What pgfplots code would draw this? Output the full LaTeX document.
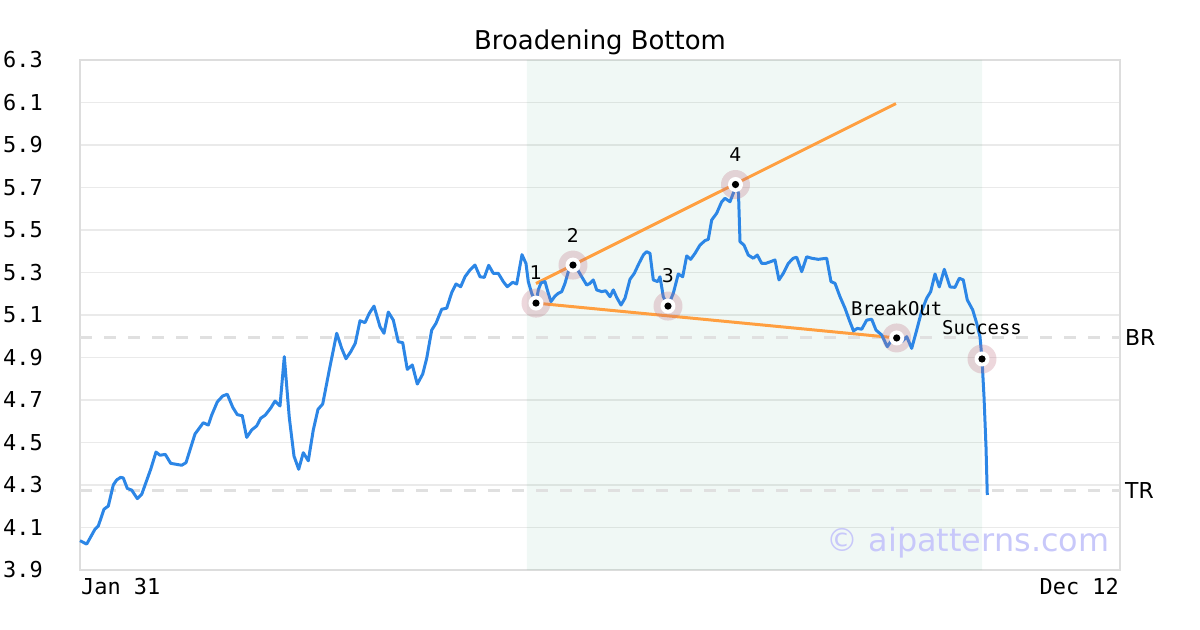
\documentclass[border=0pt]{standalone}
\usepackage{fontspec}
\setmainfont{DejaVu Sans}
\newfontfamily\monofont{DejaVu Sans Mono}
\usepackage{pgfplots}
\usepackage{pgfplotstable}
\pgfplotsset{compat=1.18}

\definecolor{lineblue}{RGB}{44,134,230}
\definecolor{trendorange}{RGB}{255,159,64}
\definecolor{shadegreen}{RGB}{0,140,80}
\definecolor{gridgray}{RGB}{234,234,234}
\definecolor{framegray}{RGB}{221,221,221}
\definecolor{dashgray}{RGB}{224,224,224}
\definecolor{halo}{RGB}{190,110,130}
\definecolor{wmark}{RGB}{200,200,250}

% price series (x in chart units, Jan 31 = 0, Dec 12 = 1040)
\pgfplotstableread{
x y
0 4.038
6.7 4.022
15 4.092
18.3 4.107
24 4.186
28.3 4.201
33.3 4.300
36.7 4.324
40.7 4.336
43.3 4.333
47.3 4.284
51.7 4.276
57.3 4.236
61.7 4.256
70.7 4.374
76 4.455
80 4.440
85.3 4.444
90.7 4.402
96.7 4.397
101.7 4.393
106 4.405
110 4.465
115 4.540
123.3 4.593
128.3 4.582
131.7 4.629
137.3 4.691
142.7 4.719
147.3 4.727
152.7 4.666
157.3 4.631
162.3 4.626
166.7 4.524
171.7 4.559
176.7 4.578
180.7 4.614
185.3 4.629
190.7 4.662
195 4.695
200 4.672
204.3 4.904
209.3 4.617
214 4.436
218.7 4.374
223.3 4.452
228.3 4.414
233.3 4.559
238 4.656
242.7 4.681
249.3 4.841
256.7 5.014
261.7 4.943
266 4.894
270.7 4.927
275.3 4.967
280 5.073
285 5.064
289.3 5.108
294 5.142
300 5.045
304 5.014
308.3 5.114
313.3 5.076
318.3 4.974
322.7 4.970
327.3 4.844
332.3 4.865
337.3 4.775
342.7 4.822
346.7 4.896
351.7 5.029
356 5.061
361.7 5.127
366.7 5.132
371.7 5.205
376 5.246
380.7 5.233
385 5.280
390 5.312
395 5.335
400 5.280
404.3 5.277
408.7 5.334
413.3 5.296
418.3 5.296
423.3 5.257
427.3 5.233
432.7 5.254
436.7 5.246
442 5.384
446 5.342
448.3 5.257
451.7 5.202
456 5.156
458.3 5.218
461 5.251
465 5.257
468.3 5.202
471 5.163
475 5.189
478.3 5.202
481.7 5.210
485 5.249
488.3 5.304
493 5.335
496.7 5.320
501.7 5.280
506.7 5.241
510 5.249
513.3 5.265
516.7 5.218
521.7 5.210
525.7 5.214
530 5.186
533.3 5.218
536.7 5.183
541 5.147
545 5.179
550 5.268
554.3 5.296
559 5.343
563.3 5.382
566.7 5.398
570 5.390
573.3 5.265
577.7 5.257
580 5.280
583.3 5.186
588 5.142
593.3 5.202
598.3 5.293
602.7 5.280
606.7 5.378
610.7 5.362
615 5.390
620 5.429
625 5.450
628.3 5.456
631.7 5.547
636.7 5.579
641.7 5.633
645 5.649
650 5.633
653.3 5.673
655.5 5.714
658.5 5.673
660 5.445
664 5.429
668.3 5.382
673.3 5.367
677.3 5.382
681.7 5.343
685.7 5.343
690.7 5.351
695 5.359
699 5.265
703.3 5.296
708.3 5.343
713.3 5.367
716.7 5.372
721.7 5.304
726.7 5.374
731.7 5.367
738.3 5.362
746.7 5.367
751 5.257
755 5.249
760 5.186
765 5.132
769.3 5.076
773.5 5.025
777.3 5.037
781.7 5.033
786.7 5.076
791.7 5.080
796 5.029
801.7 5.006
807.3 4.951
811.7 4.982
816.7 4.992
821.7 4.974
826.7 4.998
831.7 4.943
836.7 5.029
841.7 5.119
846.7 5.179
850.7 5.210
855 5.293
859.3 5.232
864.3 5.315
870 5.232
875 5.230
879.3 5.273
883.3 5.265
887.3 5.171
892.7 5.124
896.7 5.061
900 4.998
902 4.893
904 4.716
906 4.480
907.3 4.253
}\price

% pattern points
\pgfplotstableread{
x y
456 5.156
493 5.335
588 5.142
655.5 5.714
816.7 4.992
902 4.893
}\pivots

\begin{document}
\begin{tikzpicture}
\useasboundingbox (-80bp,-60bp) rectangle (1120bp,570bp);
\begin{axis}[
  at={(0,0)}, anchor=south west,
  scale only axis, width=1040bp, height=510bp,
  xmin=0, xmax=1040, ymin=3.9, ymax=6.3,
  clip=false,
  axis line style={framegray, line width=2.5bp},
  major tick length=0pt,
  ytick={3.9,4.1,4.3,4.5,4.7,4.9,5.1,5.3,5.5,5.7,5.9,6.1,6.3},
  yticklabels={3.9,4.1,4.3,4.5,4.7,4.9,5.1,5.3,5.5,5.7,5.9,6.1,6.3},
  xtick={0}, xticklabels={Jan 31},
  extra x ticks={1040}, extra x tick labels={Dec 12},
  extra x tick style={xticklabel style={anchor=north east, xshift=-2bp}},
  xticklabel style={anchor=north west, inner sep=0pt, yshift=-8bp, xshift=1bp,
    font=\monofont\fontsize{22}{22}\selectfont},
  yticklabel style={anchor=east, inner sep=0pt, xshift=-37bp,
    font=\monofont\fontsize{22}{22}\selectfont},
  ymajorgrids, grid style={gridgray, line width=1.2bp},
  title={Broadening Bottom},
  every axis title shift=0pt,
  title style={inner sep=0pt, yshift=5bp, font=\fontsize{26}{26}\selectfont},
]
% pattern window
\addplot[draw=none, fill=shadegreen, fill opacity=0.06]
  coordinates {(447,3.9)(902,3.9)(902,6.3)(447,6.3)} \closedcycle;
% BR / TR levels
\addplot[dashgray, line width=3bp, dash pattern=on 12bp off 12bp]
  coordinates {(0,4.992)(1040,4.992)};
\addplot[dashgray, line width=3bp, dash pattern=on 12bp off 12bp]
  coordinates {(0,4.272)(1040,4.272)};
% trend lines
\addplot[trendorange, line width=3bp] coordinates {(456,5.248)(816,6.095)};
\addplot[trendorange, line width=3bp] coordinates {(456,5.156)(816.7,4.992)};
% price
\addplot[lineblue, line width=3bp, line join=round] table[x=x, y=y] {\price};
% markers
\addplot[only marks, mark=*, mark size=14.5bp,
  mark options={draw opacity=0, fill=halo, fill opacity=0.28}] table[x=x, y=y] {\pivots};
\addplot[only marks, mark=*, mark size=7.5bp,
  mark options={draw opacity=0, fill=white}] table[x=x, y=y] {\pivots};
\addplot[only marks, mark=*, mark size=3.6bp,
  mark options={draw opacity=0, fill=black}] table[x=x, y=y] {\pivots};
% labels
\begin{scope}[every node/.style={inner sep=0pt, font=\fontsize{19}{19}\selectfont}]
\node at (axis cs:456,5.156) [yshift=30bp] {1};
\node at (axis cs:493,5.335) [yshift=30bp] {2};
\node at (axis cs:588,5.142) [yshift=30bp] {3};
\node at (axis cs:655.5,5.714) [yshift=30bp] {4};
\end{scope}
\node[inner sep=0pt, font=\monofont\fontsize{19}{19}\selectfont] at (axis cs:816.7,4.992) [yshift=30bp] {BreakOut};
\node[inner sep=0pt, font=\monofont\fontsize{19}{19}\selectfont] at (axis cs:902,4.893) [yshift=31bp] {Success};
\node[anchor=west, inner sep=0pt, xshift=5bp, font=\fontsize{22}{22}\selectfont] at (axis cs:1040,4.992) {BR};
\node[anchor=west, inner sep=0pt, xshift=5bp, font=\fontsize{22}{22}\selectfont] at (axis cs:1040,4.272) {TR};
\node[wmark, font=\fontsize{32}{32}\selectfont] at (axis cs:888,4.027) {© aipatterns.com};
\end{axis}
\end{tikzpicture}
\end{document}
